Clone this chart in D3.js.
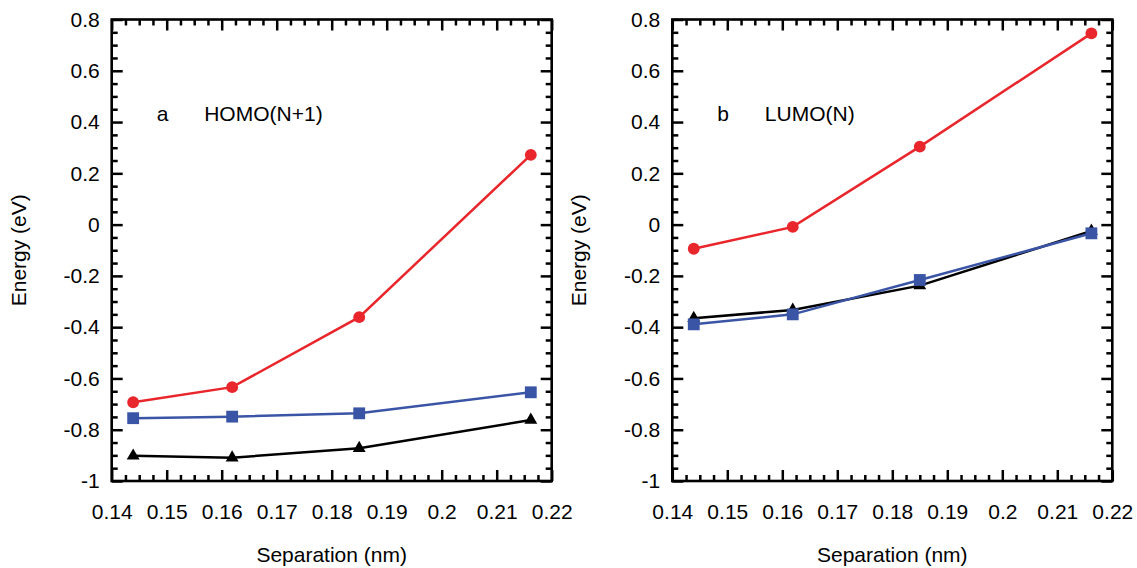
<!DOCTYPE html>
<html>

<head>
  <title>HOMO / LUMO energy vs separation</title>
  <script src="https://d3js.org/d3.v7.min.js"></script>
  <style>
    body {
      margin: 0;
      background: #fff;
      font-family: "Liberation Sans", Arial, sans-serif;
    }

    .tick text {
      font-family: "Liberation Sans", Arial, sans-serif;
      font-size: 21px;
      fill: #000;
    }

    .tick line {
      stroke: #000;
      stroke-width: 2.5px;
    }

    .label {
      font-family: "Liberation Sans", Arial, sans-serif;
      font-size: 21px;
      fill: #000;
    }
  </style>
</head>

<body>
  <svg id="chart" width="1137" height="568"></svg>

  <script>
    // separation (nm) for each computed geometry
    const separation = [0.1439, 0.1619, 0.185, 0.2162];

    // panel a: HOMO(N+1)
    const homoRed = [-0.693, -0.634, -0.361, 0.272];
    const homoBlue = [-0.755, -0.749, -0.736, -0.654];
    const homoBlack = [-0.902, -0.909, -0.872, -0.762];

    // panel b: LUMO(N)
    const lumoRed = [-0.094, -0.009, 0.304, 0.746];
    const lumoBlue = [-0.389, -0.350, -0.216, -0.034];
    const lumoBlack = [-0.365, -0.333, -0.238, -0.025];

    const xTicks = d3.range(14, 23).map(d => d / 100);
    const yTicks = d3.range(-10, 9, 2).map(d => d / 10);
    const xMinor = d3.range(56, 89).filter(d => d % 4 !== 0).map(d => d * 0.0025);
    const yMinor = d3.range(-20, 17).filter(d => d % 4 !== 0).map(d => d * 0.05);

    const panels = [
      { offset: 0, letter: "a", title: "HOMO(N+1)", series: [homoBlack, homoBlue, homoRed] },
      { offset: 560.6, letter: "b", title: "LUMO(N)", series: [lumoBlack, lumoBlue, lumoRed] }
    ];

    const styles = [
      { color: "#000000", symbol: d3.symbolTriangle, size: 72 },
      { color: "#3b55a6", symbol: d3.symbolSquare, size: 140 },
      { color: "#e8262b", symbol: d3.symbolCircle, size: 110 }
    ];

    const margin = { top: 19.5, left: 111.7 };
    const width = 440, height = 461.5;

    const x = d3.scaleLinear().domain([0.14, 0.22]).range([0, width]);
    const y = d3.scaleLinear().domain([-1, 0.8]).range([height, 0]);

    const svg = d3.select("#chart");

    panels.forEach(p => {
      const g = svg.append("g")
        .attr("transform", `translate(${p.offset + margin.left},${margin.top})`);

      // major ticks with labels (inward)
      g.append("g")
        .attr("transform", `translate(0,${height})`)
        .call(d3.axisBottom(x).tickValues(xTicks).tickSize(-11).tickPadding(23)
          .tickFormat(d => String(+d.toFixed(2))))
        .call(a => a.select(".domain").remove());

      g.append("g")
        .call(d3.axisLeft(y).tickValues(yTicks).tickSize(-11).tickPadding(12)
          .tickFormat(d => String(+d.toFixed(1))))
        .call(a => a.select(".domain").remove());

      // mirrored ticks on top and right
      g.append("g")
        .call(d3.axisTop(x).tickValues(xTicks).tickSize(-11).tickFormat(""))
        .call(a => a.select(".domain").remove());
      g.append("g")
        .attr("transform", `translate(${width},0)`)
        .call(d3.axisRight(y).tickValues(yTicks).tickSize(-11).tickFormat(""))
        .call(a => a.select(".domain").remove());

      // minor ticks on all four sides
      g.append("g")
        .attr("transform", `translate(0,${height})`)
        .call(d3.axisBottom(x).tickValues(xMinor).tickSize(-6).tickFormat(""))
        .call(a => a.select(".domain").remove());
      g.append("g")
        .call(d3.axisTop(x).tickValues(xMinor).tickSize(-6).tickFormat(""))
        .call(a => a.select(".domain").remove());
      g.append("g")
        .call(d3.axisLeft(y).tickValues(yMinor).tickSize(-6).tickFormat(""))
        .call(a => a.select(".domain").remove());
      g.append("g")
        .attr("transform", `translate(${width},0)`)
        .call(d3.axisRight(y).tickValues(yMinor).tickSize(-6).tickFormat(""))
        .call(a => a.select(".domain").remove());

      // frame
      g.append("rect")
        .attr("width", width)
        .attr("height", height)
        .attr("fill", "none")
        .attr("stroke", "#000")
        .attr("stroke-width", 2.6);

      // series
      const line = d3.line()
        .x((d, i) => x(separation[i]))
        .y(d => y(d));

      p.series.forEach((vals, k) => {
        const s = styles[k];
        g.append("path")
          .datum(vals)
          .attr("fill", "none")
          .attr("stroke", s.color)
          .attr("stroke-width", 2.5)
          .attr("d", line);

        g.selectAll(null)
          .data(vals)
          .enter().append("path")
          .attr("transform", (d, i) => `translate(${x(separation[i])},${y(d)})`)
          .attr("d", d3.symbol().type(s.symbol).size(s.size))
          .attr("fill", s.color);
      });

      // panel annotation
      g.append("text").attr("class", "label")
        .attr("x", 45).attr("y", 101)
        .text(p.letter);
      g.append("text").attr("class", "label")
        .attr("x", 92.5).attr("y", 101)
        .text(p.title);

      // axis titles
      g.append("text").attr("class", "label")
        .attr("x", width / 2).attr("y", 542)
        .attr("text-anchor", "middle")
        .text("Separation (nm)");

      g.append("text").attr("class", "label")
        .attr("transform", `translate(${-86},${height / 2}) rotate(-90)`)
        .attr("text-anchor", "middle")
        .text("Energy (eV)");
    });
  </script>
</body>

</html>
